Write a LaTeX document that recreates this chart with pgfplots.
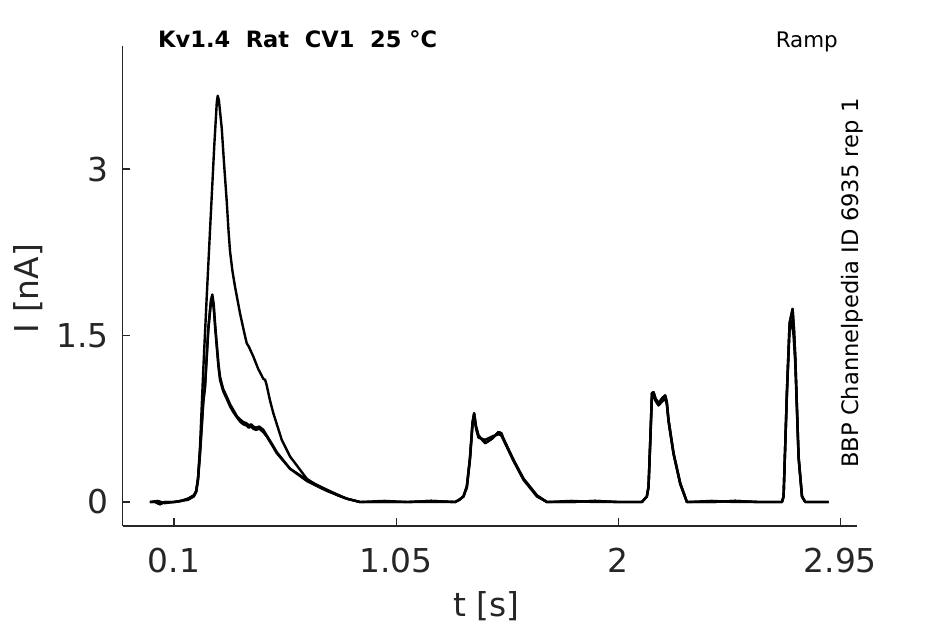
\documentclass[border=0pt]{standalone}
\usepackage{pgfplots}
\pgfplotsset{compat=1.18}
\usepackage{pgfplotstable}
\usepackage{fontspec}
\setmainfont{DejaVu Sans}
\definecolor{axgray}{HTML}{262626}

\pgfplotstableread{
t I
-0.003 0.00
0.02 0.00
0.04 -0.02
0.06 0.00
0.10 0.00
0.13 0.01
0.16 0.03
0.185 0.06
0.195 0.10
0.203 0.22
0.2113 0.50
0.2254 1.20
0.2400 1.85
0.2541 2.45
0.2725 3.22
0.2830 3.60
0.2870 3.66
0.2920 3.62
0.3041 3.37
0.3150 3.02
0.3255 2.71
0.3330 2.45
0.3396 2.26
0.3500 2.08
0.3610 1.94
0.3824 1.70
0.4000 1.53
0.4111 1.43
0.4200 1.40
0.4394 1.31
0.4600 1.20
0.4821 1.11
0.4900 1.10
0.4967 1.05
0.5100 0.92
0.5249 0.80
0.5609 0.56
0.5964 0.41
0.6465 0.27
0.6679 0.21
0.7100 0.15
0.7535 0.11
0.8000 0.06
0.8390 0.03
0.8960 0.00
1.00 0.00
1.10 0.00
1.20 0.01
1.3025 0.00
1.3200 0.02
1.3380 0.05
1.3526 0.14
1.3660 0.40
1.3770 0.72
1.3838 0.80
1.3920 0.68
1.4022 0.60
1.4309 0.53
1.4600 0.57
1.4878 0.63
1.5000 0.62
1.5092 0.57
1.5520 0.38
1.5948 0.21
1.6521 0.06
1.6949 0.00
1.80 0.00
1.90 0.01
2.00 0.00
2.1014 0.00
2.1225 0.05
2.1297 0.14
2.1370 0.55
2.1442 0.98
2.1511 0.99
2.1600 0.93
2.1725 0.89
2.1900 0.94
2.2011 0.96
2.2080 0.90
2.2153 0.74
2.2367 0.44
2.2653 0.17
2.2940 0.00
2.40 0.00
2.50 0.01
2.60 0.00
2.7005 0.00
2.7074 0.05
2.7219 1.01
2.7330 1.61
2.7459 1.74
2.7520 1.55
2.7574 1.31
2.7716 0.41
2.7861 0.05
2.8003 0.00
2.9000 0.00
}\traceA

\pgfplotstableread{
t I
-0.003 0.00
0.02 0.00
0.04 -0.02
0.06 0.00
0.10 0.00
0.13 0.01
0.16 0.03
0.185 0.06
0.195 0.10
0.203 0.22
0.2113 0.45
0.2254 0.92
0.2327 1.05
0.2468 1.57
0.2580 1.82
0.2639 1.87
0.2700 1.78
0.2760 1.60
0.2827 1.43
0.2900 1.25
0.2968 1.13
0.3100 1.02
0.3255 0.95
0.3400 0.88
0.3538 0.83
0.3700 0.77
0.3850 0.74
0.3966 0.72
0.4100 0.71
0.4200 0.69
0.4300 0.70
0.4394 0.68
0.4500 0.67
0.4650 0.68
0.4821 0.65
0.4967 0.60
0.5200 0.52
0.5395 0.45
0.5964 0.30
0.6679 0.20
0.7535 0.11
0.8390 0.03
0.8960 0.00
1.00 0.00
1.10 0.00
1.20 0.01
1.3025 0.00
1.3200 0.02
1.3380 0.05
1.3526 0.14
1.3660 0.40
1.3770 0.72
1.3838 0.80
1.3920 0.68
1.4022 0.60
1.4309 0.53
1.4600 0.57
1.4878 0.63
1.5000 0.62
1.5092 0.57
1.5520 0.38
1.5948 0.21
1.6521 0.06
1.6949 0.00
1.80 0.00
1.90 0.01
2.00 0.00
2.1014 0.00
2.1225 0.05
2.1297 0.14
2.1370 0.55
2.1442 0.98
2.1511 0.99
2.1600 0.93
2.1725 0.89
2.1900 0.94
2.2011 0.96
2.2080 0.90
2.2153 0.74
2.2367 0.44
2.2653 0.17
2.2940 0.00
2.40 0.00
2.50 0.01
2.60 0.00
2.7005 0.00
2.7074 0.05
2.7219 1.01
2.7330 1.61
2.7459 1.74
2.7520 1.55
2.7574 1.31
2.7716 0.41
2.7861 0.05
2.8003 0.00
2.9000 0.00
}\traceB

\pgfplotstableread{
t I
-0.003 0.00
0.03 0.01
0.06 -0.01
0.10 0.00
0.13 0.01
0.16 0.02
0.185 0.05
0.195 0.09
0.203 0.20
0.2113 0.43
0.2254 0.90
0.2327 1.03
0.2468 1.55
0.2580 1.80
0.2630 1.85
0.2700 1.74
0.2760 1.57
0.2827 1.40
0.2900 1.22
0.2968 1.10
0.3100 1.00
0.3255 0.93
0.3400 0.86
0.3538 0.81
0.3700 0.76
0.3850 0.72
0.3966 0.70
0.4100 0.69
0.4200 0.67
0.4300 0.68
0.4394 0.66
0.4500 0.65
0.4650 0.66
0.4821 0.63
0.4967 0.59
0.5200 0.51
0.5395 0.44
0.5964 0.30
0.6679 0.19
0.7535 0.10
0.8390 0.03
0.8960 0.00
1.00 0.01
1.10 0.00
1.20 0.00
1.3025 0.00
1.3200 0.02
1.3380 0.05
1.3526 0.13
1.3660 0.38
1.3770 0.70
1.3838 0.77
1.3920 0.66
1.4022 0.58
1.4309 0.56
1.4600 0.59
1.4878 0.61
1.5000 0.60
1.5092 0.56
1.5520 0.37
1.5948 0.20
1.6521 0.05
1.6949 0.00
1.80 0.01
1.90 0.00
2.00 0.00
2.1014 0.00
2.1225 0.05
2.1297 0.13
2.1370 0.52
2.1442 0.94
2.1511 0.96
2.1600 0.91
2.1725 0.87
2.1900 0.91
2.2011 0.93
2.2080 0.88
2.2153 0.72
2.2367 0.43
2.2653 0.16
2.2940 0.00
2.40 0.01
2.50 0.00
2.60 0.00
2.7005 0.00
2.7074 0.05
2.7219 0.98
2.7330 1.55
2.7420 1.63
2.7500 1.50
2.7574 1.25
2.7716 0.39
2.7861 0.05
2.8003 0.00
2.9000 0.00
}\traceC

\begin{document}
\begin{tikzpicture}[x=1bp,y=1bp]
\begin{axis}[
  at={(122.5bp,98bp)}, anchor=south west,
  scale only axis, width=734bp, height=479.5bp,
  xmin=-0.1203, xmax=3.0193, ymin=-0.216, ymax=4.104,
  axis x line*=bottom, axis y line*=left,
  axis line style={axgray, line width=1.2bp, -},
  xtick={0.1,1.05,2,2.95}, xticklabels={0.1,1.05,2,2.95},
  ytick={0,1.5,3}, yticklabels={0,1.5,3},
  tick style={axgray, line width=1.2bp},
  major tick length=7.5bp,
  tick align=inside,
  /pgf/number format/assume math mode=true,
  ticklabel style={font=\fontsize{33}{40}\selectfont, text=axgray},
  xticklabel style={anchor=base, yshift=-46bp, inner sep=0pt},
  yticklabel style={anchor=east, xshift=-13.5bp, inner sep=0pt},
  clip=false,
]
\addplot[black, line width=2.4bp, line join=round, no marks] table[x=t, y=I] {\traceA};
\addplot[black, line width=2.4bp, line join=round, no marks] table[x=t, y=I] {\traceB};
\addplot[black, line width=2.4bp, line join=round, no marks] table[x=t, y=I] {\traceC};
\end{axis}
\node[anchor=base west, inner sep=0pt, font=\bfseries\fontsize{22.6}{26}\selectfont] at (158bp,576bp) {Kv1.4\ \ Rat\ \ CV1\ \ 25 °C};
\node[anchor=base east, inner sep=0pt, font=\fontsize{21.5}{26}\selectfont] at (838bp,576bp) {Ramp};
\node[rotate=90, anchor=base west, inner sep=0pt, font=\fontsize{22.7}{26}\selectfont] at (858bp,156bp) {BBP Channelpedia ID 6935 rep 1};
\node[rotate=90, anchor=base, inner sep=0pt, font=\fontsize{33}{40}\selectfont, text=axgray] at (38bp,335.5bp) {I [nA]};
\node[anchor=base, inner sep=0pt, font=\fontsize{33}{40}\selectfont, text=axgray] at (486.5bp,8bp) {t [s]};
\pgfresetboundingbox
\useasboundingbox (0,0) rectangle (945bp,624bp);
\end{tikzpicture}
\end{document}
